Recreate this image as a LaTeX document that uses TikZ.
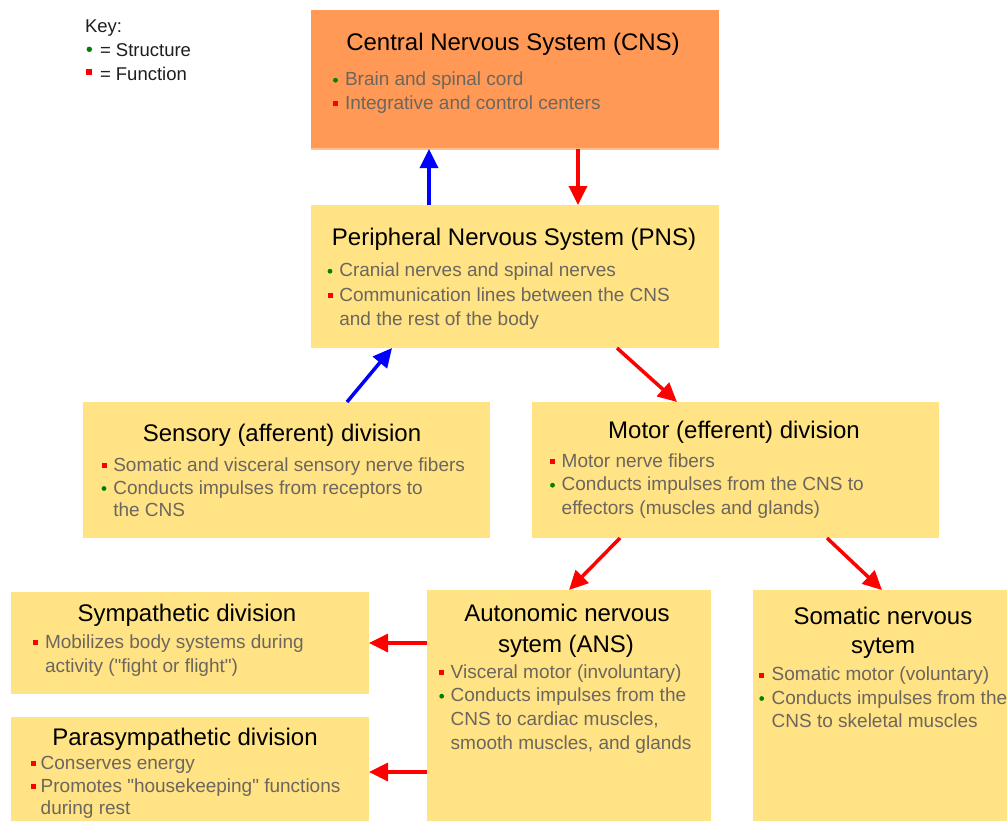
\documentclass[tikz,border=0pt]{standalone}
\usepackage{fontspec}
\setmainfont{Liberation Sans}
\usetikzlibrary{arrows.meta}
\definecolor{cnsorange}{RGB}{255,153,85}
\definecolor{cnsedge}{RGB}{255,190,140}
\definecolor{pnsyellow}{RGB}{255,227,133}
\definecolor{itemgray}{RGB}{108,102,94}
\definecolor{keyblack}{RGB}{30,30,30}
\definecolor{strgreen}{RGB}{0,128,0}

\begin{document}
\begin{tikzpicture}[y=1pt, x=1pt, yscale=-1, inner sep=0pt, outer sep=0pt,
  obox/.style={fill=cnsorange, anchor=north west},
  ybox/.style={fill=pnsyellow, anchor=north west},
  ttl/.style={anchor=base, text=black, font=\fontsize{24}{28}\selectfont},
  itm/.style={anchor=base west, text=itemgray, font=\fontsize{19}{23}\selectfont},
  keytxt/.style={anchor=base west, text=keyblack, font=\fontsize{18.5}{22}\selectfont},
  strc/.style={fill=strgreen},
  fnc/.style={fill=red},
  affer/.style={draw=blue, line width=3.5pt, -{Triangle[length=19pt,width=18pt]}},
  effer/.style={draw=red, line width=3.5pt, -{Triangle[length=19pt,width=18pt]}}]
  \clip (0,0) rectangle (1007,820);

  % key
  \path (85,32.7) node[keytxt] (key-title) {Key:};
  \path[strc] (89.3,49.3) circle (2.7pt);
  \path (100,56) node[keytxt] (key-strc) {= Structure};
  \path[fnc] (86.3,69.3) rectangle (92.3,75.3);
  \path (100,80) node[keytxt] (key-fnc) {= Function};

  % boxes
  \node[obox, minimum width=408pt, minimum height=139pt] (cns) at (311,10) {};
  \path[draw=cnsedge, line width=1.5pt] (cns.south west) -- (cns.south east);
  \node[ybox, minimum width=408pt, minimum height=143pt] (pns) at (311,205) {};
  \node[ybox, minimum width=407pt, minimum height=136pt] (sens) at (83,402) {};
  \node[ybox, minimum width=407pt, minimum height=136pt] (motor) at (532,402) {};
  \node[ybox, minimum width=358pt, minimum height=102pt] (sym) at (11,592) {};
  \node[ybox, minimum width=358pt, minimum height=110pt] (para) at (11,717) {};
  \node[ybox, minimum width=284pt, minimum height=240pt] (ans) at (427,590) {};
  \node[ybox, minimum width=284pt, minimum height=240pt] (som) at (753,590) {};

  % central nervous system
  \path (513,50.7) node[ttl] (cns-title) {Central Nervous System (CNS)};
  \path[strc] (335.5,80.2) circle (2.4pt);
  \path (345,85.7) node[itm] (cns-item1) {Brain and spinal cord};
  \path[fnc] (333,101) rectangle (338,106);
  \path (345,109) node[itm] (cns-item2) {Integrative and control centers};

  % peripheral nervous system
  \path (514,245.7) node[ttl] (pns-title) {Peripheral Nervous System (PNS)};
  \path[strc] (330,271.2) circle (2.4pt);
  \path (339.3,276.7) node[itm] (pns-item1) {Cranial nerves and spinal nerves};
  \path[fnc] (327.5,293) rectangle (332.5,298);
  \path (339.3,301) node[itm] (pns-item2) {Communication lines between the CNS};
  \path (339.3,325) node[itm] (pns-item2b) {and the rest of the body};

  % sensory division
  \path (282,441.7) node[ttl] (sens-title) {Sensory (afferent) division};
  \path[fnc] (101.5,463) rectangle (106.5,468);
  \path (113.3,471) node[itm] (sens-item1) {Somatic and visceral sensory nerve fibers};
  \path[strc] (104,488.5) circle (2.4pt);
  \path (113.3,494) node[itm] (sens-item2) {Conducts impulses from receptors to};
  \path (113.3,516.7) node[itm] (sens-item2b) {the CNS};

  % motor division
  \path (734,438.3) node[ttl] (motor-title) {Motor (efferent) division};
  \path[fnc] (550,459.3) rectangle (555,464.3);
  \path (561.7,467.3) node[itm] (motor-item1) {Motor nerve fibers};
  \path[strc] (552.5,485.2) circle (2.4pt);
  \path (561.7,490.7) node[itm] (motor-item2) {Conducts impulses from the CNS to};
  \path (561.7,514) node[itm] (motor-item2b) {effectors (muscles and glands)};

  % sympathetic division
  \path (187,621.7) node[ttl] (sym-title) {Sympathetic division};
  \path[fnc] (33.2,640.3) rectangle (38.2,645.3);
  \path (45,648.3) node[itm] (sym-item1) {Mobilizes body systems during};
  \path (45,672.3) node[itm] (sym-item1b) {activity (\textquotedbl fight or flight\textquotedbl)};

  % parasympathetic division
  \path (185,745) node[ttl] (para-title) {Parasympathetic division};
  \path[fnc] (30.8,761) rectangle (35.8,766);
  \path (40.7,769) node[itm] (para-item1) {Conserves energy};
  \path[fnc] (30.8,784.3) rectangle (35.8,789.3);
  \path (40.7,792.3) node[itm] (para-item2) {Promotes \textquotedbl housekeeping\textquotedbl{} functions};
  \path (40.7,814.3) node[itm] (para-item2b) {during rest};

  % autonomic nervous system
  \path (567,621.7) node[ttl] (ans-title) {Autonomic nervous};
  \path (566,652.7) node[ttl] (ans-title2) {sytem (ANS)};
  \path[fnc] (439.2,670.3) rectangle (444.2,675.3);
  \path (450.7,678.3) node[itm] (ans-item1) {Visceral motor (involuntary)};
  \path[strc] (441.7,696.2) circle (2.4pt);
  \path (450.7,701.7) node[itm] (ans-item2) {Conducts impulses from the};
  \path (450.7,725) node[itm] (ans-item2b) {CNS to cardiac muscles,};
  \path (450.7,749) node[itm] (ans-item2c) {smooth muscles, and glands};

  % somatic nervous system
  \path (883,624) node[ttl] (som-title) {Somatic nervous};
  \path (883,653.3) node[ttl] (som-title2) {sytem};
  \path[fnc] (759.2,672.7) rectangle (764.2,677.7);
  \path (771.7,680.7) node[itm] (som-item1) {Somatic motor (voluntary)};
  \path[strc] (761.7,698.5) circle (2.4pt);
  \path (771.7,704) node[itm] (som-item2) {Conducts impulses from the};
  \path (771.7,727.7) node[itm] (som-item2b) {CNS to skeletal muscles};

  % arrows
  \draw[affer] ([xshift=118pt]pns.north west) -- ([xshift=118pt]cns.south west);
  \draw[effer] ([xshift=267pt]cns.south west) -- ([xshift=267pt]pns.north west);
  \draw[affer] ([xshift=264pt]sens.north west) -- ([xshift=81pt]pns.south west);
  \draw[effer] ([xshift=306pt]pns.south west) -- ([xshift=145pt]motor.north west);
  \draw[effer] ([xshift=88pt]motor.south west) -- ([xshift=142pt]ans.north west);
  \draw[effer] ([xshift=295pt]motor.south west) -- ([xshift=129pt]som.north west);
  \draw[effer] (ans.west |- sym.east) -- (sym.east);
  \draw[effer] (ans.west |- para.east) -- (para.east);

\end{tikzpicture}
\end{document}
